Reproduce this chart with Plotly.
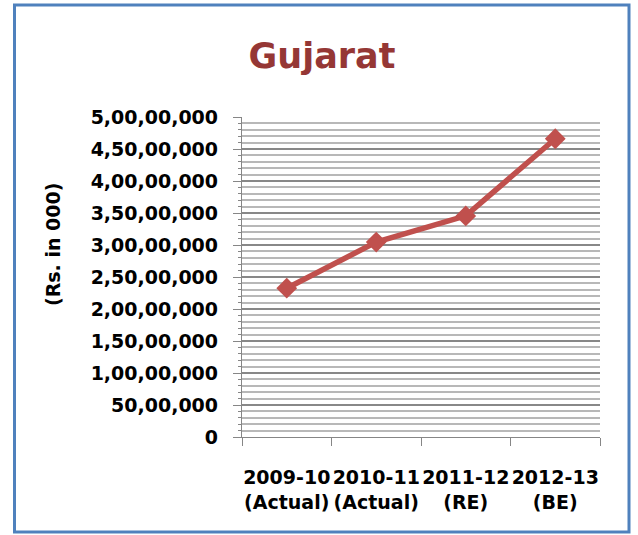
import plotly.graph_objects as go

categories = ["2009-10<br>(Actual)", "2010-11<br>(Actual)", "2011-12<br>(RE)", "2012-13<br>(BE)"]
values = [23250000, 30450000, 34550000, 46600000]
y_tickvals = [0, 5000000, 10000000, 15000000, 20000000, 25000000, 30000000,
              35000000, 40000000, 45000000, 50000000]
y_ticktext = ["0", "50,00,000", "1,00,00,000", "1,50,00,000", "2,00,00,000",
              "2,50,00,000", "3,00,00,000", "3,50,00,000", "4,00,00,000",
              "4,50,00,000", "5,00,00,000"]
title_text = "Gujarat"
y_title = "(Rs. in 000)"

W, H = 638, 535
L, R, T, B = 242, 38, 117, 98
pw, ph = W - L - R, H - T - B

def px_x(x):
    return (x - L) / pw

def px_y(y):
    return (H - B - y) / ph

font_main = dict(family="DejaVu Sans", size=19, color="black", weight="bold")

fig = go.Figure()
fig.add_trace(go.Scatter(
    x=categories, y=values, mode="lines+markers",
    line=dict(color="#C0504D", width=5.5),
    marker=dict(symbol="diamond", size=16, color="#C0504D"),
    showlegend=False, hoverinfo="skip",
))

fig.update_layout(
    width=W, height=H, autosize=False,
    margin=dict(l=L, r=R, t=T, b=B, pad=0, autoexpand=False),
    paper_bgcolor="white", plot_bgcolor="white",
    title=dict(text=title_text, x=322 / W, xanchor="center", xref="container",
               y=1 - 56 / H, yanchor="middle", yref="container", automargin=False,
               font=dict(family="DejaVu Sans", size=35, color="#953735", weight="bold")),
    xaxis=dict(
        type="category", range=[-0.5, 3.5], tickson="boundaries", automargin=False,
        tickangle=0,
        showgrid=False, showline=True, linecolor="#868686", linewidth=1.3,
        ticks="outside", ticklen=8, tickcolor="#868686", tickwidth=1.3,
        tickfont=font_main, ticklabelstandoff=23,
    ),
    yaxis=dict(
        range=[0, 50000000], tickvals=y_tickvals, ticktext=y_ticktext, automargin=False,
        showline=True, linecolor="#868686", linewidth=1.3,
        ticks="outside", ticklen=8, tickcolor="#868686", tickwidth=1.3,
        showgrid=True, gridcolor="#888888", gridwidth=1.5,
        minor=dict(dtick=1000000, showgrid=True, gridcolor="#b8b8b8", gridwidth=1.5,
                   ticks="outside", ticklen=3, tickcolor="#868686"),
        tickfont=font_main, ticklabelstandoff=11, zeroline=False,
    ),
    shapes=[dict(type="rect", xref="paper", yref="paper",
                 x0=px_x(14.5), x1=px_x(629), y0=px_y(5), y1=px_y(532),
                 line=dict(color="#4F81BD", width=3), fillcolor="rgba(0,0,0,0)",
                 layer="below")],
    annotations=[dict(text=y_title, xref="paper", yref="paper",
                      x=px_x(53), y=px_y(245), textangle=-90, showarrow=False,
                      xanchor="center", yanchor="middle", font=font_main)],
)

fig.write_html("out.html", config={"displayModeBar": False},
               post_script="document.body.style.margin='0';document.body.style.overflow='hidden';")
